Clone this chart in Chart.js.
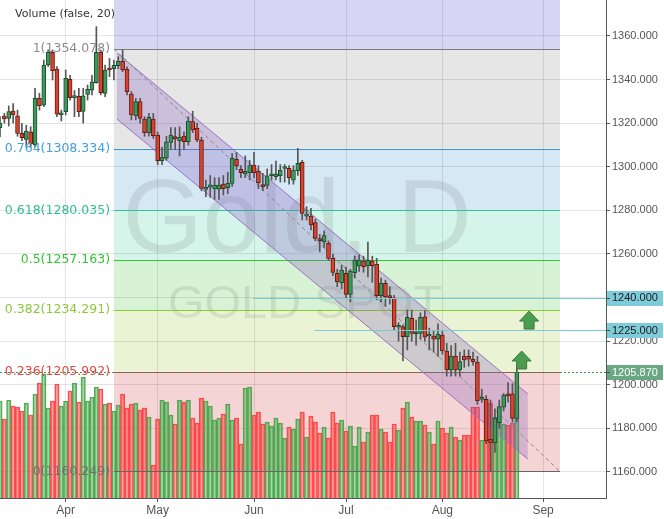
<!DOCTYPE html>
<html>
<head>
<meta charset="utf-8">
<script src="https://cdn.jsdelivr.net/npm/chart.js@4.4.0/dist/chart.umd.min.js"></script>
<style>
  html, body { margin: 0; padding: 0; background: #fff; }
  #wrap { width: 664px; height: 519px; }
</style>
</head>
<body>
<div id="wrap"><canvas id="chart" width="664" height="519"></canvas></div>
<script>
// daily candles, one per trading day (index 0 = partly hidden first bar)
const opens = [
  1318, 1323.3, 1322.2, 1325.6, 1323.4, 1315.3, 1312.6, 1316, 1310, 1331.4,
  1328.3, 1346.7, 1352.5, 1344.8, 1323.8, 1325.3, 1340.1, 1331.7, 1332.3, 1325.4,
  1333.2, 1335.2, 1338.6, 1352.5, 1333.7, 1345.2, 1345, 1346.4, 1348.4, 1344.7,
  1333.4, 1323.4, 1329.9, 1321.9, 1315.7, 1321.9, 1314.6, 1302.8, 1303.9, 1311.2,
  1313.5, 1312, 1314.1, 1311.5, 1320.7, 1317.6, 1312.3, 1289.6, 1290.7, 1289.8,
  1289.7, 1292.1, 1290.4, 1292.4, 1303.4, 1298.8, 1296.7, 1297.3, 1300.8, 1298,
  1291.6, 1291.5, 1295.9, 1295.5, 1295.9, 1299.2, 1299.3, 1293.9, 1298.2, 1302,
  1277.4, 1277.4, 1274.4, 1266.9, 1265.6, 1264.9, 1258, 1251.1, 1246.8, 1251.1,
  1241.5, 1251.4, 1254.5, 1256.8, 1254.5, 1256.8, 1255.3, 1240.9, 1246.5, 1240.4,
  1239.9, 1226.4, 1226.7, 1222.1, 1230.5, 1223.4, 1223.6, 1231.2, 1222.4, 1222.4,
  1220.9, 1222.8, 1215.5, 1206.8, 1213.2, 1206.8, 1213.2, 1213, 1211.7, 1210.3,
  1193.3, 1193.3, 1175, 1173.5, 1182.6, 1189.7, 1195.8, 1195.8, 1184.6
];
const highs = [
  1323, 1324.5, 1327.9, 1329, 1326, 1319.9, 1319, 1318.4, 1336, 1333.7,
  1349, 1353.6, 1353.6, 1346, 1326, 1344.4, 1342, 1335, 1336, 1336,
  1337.5, 1342, 1364.3, 1353.6, 1346.7, 1349.7, 1349, 1350.5, 1353.6, 1345.9,
  1334.5, 1331.4, 1331.4, 1323, 1324.5, 1324.5, 1316, 1309, 1314, 1318,
  1318, 1318.4, 1316, 1323, 1325.5, 1320, 1313.5, 1293.9, 1296, 1295,
  1295, 1296, 1297.5, 1306.1, 1306.6, 1300.5, 1305, 1303, 1306.6, 1300.5,
  1297, 1299, 1301, 1302.6, 1301, 1301, 1300.5, 1300.5, 1308.5, 1303,
  1281.7, 1281, 1276, 1269, 1270.5, 1266, 1260, 1253, 1255, 1254,
  1253, 1259, 1259.6, 1259, 1265.5, 1259, 1258, 1249, 1248, 1245,
  1241, 1228.5, 1227.5, 1234.3, 1234.3, 1229.7, 1233, 1234, 1226, 1225,
  1228, 1224.5, 1219, 1218, 1219, 1215, 1216, 1216, 1215, 1213,
  1198, 1195, 1193, 1189, 1193, 1196, 1201, 1200.5, 1208.5
];
const lows = [
  1313.8, 1320, 1318.7, 1320, 1314, 1312, 1309.2, 1309, 1309, 1326,
  1327.6, 1346, 1339.8, 1323, 1321, 1323.8, 1330.6, 1323, 1323, 1320,
  1330.6, 1333, 1338.3, 1333, 1332.2, 1341.3, 1339.8, 1345, 1343.6, 1333,
  1321.5, 1321.5, 1320, 1314, 1314, 1313, 1301, 1301, 1303, 1308,
  1308, 1305, 1308, 1310, 1315.7, 1311.5, 1289, 1286.3, 1286, 1285,
  1285, 1287, 1287.6, 1291, 1298.7, 1295, 1295, 1294, 1295, 1290,
  1289, 1290, 1294, 1294, 1293, 1293, 1292, 1292, 1296, 1275.6,
  1275.6, 1271, 1266, 1261, 1263, 1257, 1250, 1245, 1244, 1240,
  1238, 1249, 1252, 1251.6, 1249.5, 1247, 1239, 1238, 1236, 1237,
  1225, 1220, 1211, 1216, 1220, 1218.2, 1221, 1220, 1216, 1215,
  1213, 1214, 1204, 1204, 1204, 1204, 1208, 1208.5, 1209, 1191,
  1192, 1173, 1160.5, 1169, 1180, 1188, 1192, 1183, 1183
];
const closes = [
  1320, 1322, 1325.3, 1323.8, 1315.3, 1313.4, 1316.4, 1310.5, 1331.4, 1328,
  1346.7, 1352.5, 1344.1, 1324.1, 1324.5, 1340.6, 1331.7, 1332.5, 1325.3, 1332.6,
  1335.5, 1339, 1352.5, 1334, 1344.4, 1344.4, 1346.5, 1348.4, 1344.4, 1334.5,
  1323.8, 1329.9, 1322.2, 1315.7, 1322.7, 1314.3, 1302.8, 1304.5, 1311.5, 1314.6,
  1312.9, 1313.5, 1311.5, 1321, 1316.9, 1312.3, 1290.1, 1290.6, 1291.7, 1291.6,
  1291.6, 1290, 1292.4, 1303.9, 1300.5, 1297.3, 1297.9, 1300.5, 1297.3, 1292.7,
  1290.9, 1295.8, 1296.4, 1296.7, 1298.5, 1299.8, 1295, 1298.5, 1301.6, 1278.6,
  1277.9, 1273.3, 1267.2, 1266.1, 1268.4, 1258, 1251.6, 1247.3, 1252.6, 1241.5,
  1252.2, 1257.2, 1257.2, 1254.2, 1257.2, 1254.6, 1240.9, 1246.5, 1240.4, 1240,
  1226.7, 1227.2, 1222.1, 1230.9, 1223.6, 1224, 1230.9, 1221.8, 1222.9, 1220.9,
  1223.3, 1215.5, 1206.8, 1213.2, 1206.8, 1210.6, 1211.4, 1211.8, 1210.6, 1192.7,
  1193.8, 1174.2, 1173.6, 1184.6, 1190, 1195.3, 1194.9, 1184.6, 1205.87
];
const volumes = [
  97, 79, 98, 92, 91, 87, 95, 83, 104, 115,
  124, 90, 97, 114, 92, 97, 107, 115, 96, 121,
  97, 101, 111, 109, 94, 95, 87, 93, 104, 90,
  94, 95, 88, 90, 81, 33, 79, 98, 96, 83,
  74, 98, 96, 98, 80, 75, 100, 97, 92, 78,
  80, 84, 94, 78, 80, 54, 110, 111, 83, 86,
  74, 76, 72, 80, 75, 60, 71, 69, 79, 86,
  61, 82, 76, 65, 71, 60, 86, 75, 78, 67,
  72, 52, 71, 56, 66, 83, 83, 69, 66, 56,
  74, 68, 90, 96, 81, 77, 77, 73, 66, 54,
  77, 70, 65, 71, 61, 58, 63, 63, 91, 91,
  58, 99, 95, 81, 91, 74, 73, 75, 89
];

// axis ticks
const monthTicks = [15, 36, 58, 79, 101, 124];
const monthLabels = ["Apr", "May", "Jun", "Jul", "Aug", "Sep"];
const priceTicks = [1160, 1180, 1200, 1220, 1240, 1260, 1280, 1300, 1320, 1340, 1360];

// fibonacci retracement drawing
const fibRatios = ["0", "0.236", "0.382", "0.5", "0.618", "0.764", "1"];
const fibPrices = [1160.249, 1205.992, 1234.291, 1257.163, 1280.035, 1308.334, 1354.078];
const fibFrom = 26.03, fibTo = 127.85;

// parallel channel
const channelX = [26.7, 120.5];
const channelUpper = [1352.2, 1195.8];
const channelLower = [1321.9, 1165.96];

// horizontal levels / markers
const hLevels = [1240, 1225];
const hLevelFrom = [57.8, 71.7];
const lastPrice = 1205.87;
const arrowX = [120.8, 119.1];
const arrowY = [1233.8, 1215.5];

const zoneColors = ["#f4d4d4", "#eaf4d5", "#d7f2d4", "#d5f4ea", "#d5e8f4", "#e6e6e6", "#d6d6f4"];
const fibLineColors = ["#666666", "#cf3d31", "#86cf2a", "#2ecb2e", "#2ac693", "#3a93cf", "#7a7a7a"];
const fibTextColors = ["#707070", "#dc4a40", "#8cc83a", "#33c433", "#32c08e", "#42a0dc", "#8c8c8c"];

const UP = "#3d9a5c", UP_EDGE = "#1f4d2f", DN = "#d8432c", DN_EDGE = "#641c14";

const isUp = (i) => closes[i] >= opens[i];

const overlay = {
  id: "overlay",
  beforeDraw(chart) {
    const { ctx, chartArea: a, scales: { x, y } } = chart;
    ctx.save();
    ctx.beginPath();
    ctx.rect(a.left, a.top, a.width, a.height);
    ctx.clip();
    const x0 = x.getPixelForValue(fibFrom), x1 = x.getPixelForValue(fibTo);
    for (let i = 0; i < fibPrices.length; i++) {
      const yb = y.getPixelForValue(fibPrices[i]);
      const yt = i < fibPrices.length - 1 ? y.getPixelForValue(fibPrices[i + 1]) : a.top;
      ctx.fillStyle = zoneColors[i];
      ctx.fillRect(x0, yt, x1 - x0, yb - yt);
    }
    // watermark
    ctx.fillStyle = "rgba(40,40,40,0.1)";
    ctx.textAlign = "center";
    ctx.textBaseline = "alphabetic";
    ctx.font = '103px "Liberation Sans", Arial, sans-serif';
    ctx.fillText("Gold, D", 297, 252);
    ctx.font = '47px "Liberation Sans", Arial, sans-serif';
    ctx.fillText("GOLD SPOT", 305, 318);
    ctx.restore();
  },
  beforeDatasetDraw(chart, args) {
    if (args.index !== 1) return;
    const { ctx, chartArea: a, scales: { x, y } } = chart;
    ctx.save();
    ctx.beginPath();
    ctx.rect(a.left, a.top, a.width, a.height);
    ctx.clip();
    const x0 = x.getPixelForValue(fibFrom), x1 = x.getPixelForValue(fibTo);
    // fib level lines
    fibPrices.forEach((p, i) => {
      const yy = Math.round(y.getPixelForValue(p)) + 0.5;
      ctx.strokeStyle = fibLineColors[i];
      ctx.lineWidth = 1;
      ctx.beginPath();
      ctx.moveTo(x0, yy);
      ctx.lineTo(x1, yy);
      ctx.stroke();
    });
    // channel
    const cx0 = x.getPixelForValue(channelX[0]), cx1 = x.getPixelForValue(channelX[1]);
    const u0 = y.getPixelForValue(channelUpper[0]), u1 = y.getPixelForValue(channelUpper[1]);
    const l0 = y.getPixelForValue(channelLower[0]), l1 = y.getPixelForValue(channelLower[1]);
    ctx.fillStyle = "rgba(130,90,190,0.27)";
    ctx.beginPath();
    ctx.moveTo(cx0, u0);
    ctx.lineTo(cx1, u1);
    ctx.lineTo(cx1, l1);
    ctx.lineTo(cx0, l0);
    ctx.closePath();
    ctx.fill();
    ctx.strokeStyle = "#9a72c4";
    ctx.beginPath();
    ctx.moveTo(cx0, u0); ctx.lineTo(cx1, u1);
    ctx.moveTo(cx0, l0); ctx.lineTo(cx1, l1);
    ctx.stroke();
    // fib trend line
    ctx.strokeStyle = "#8a8a8a";
    ctx.setLineDash([4, 3]);
    ctx.beginPath();
    ctx.moveTo(x0, y.getPixelForValue(fibPrices[6]));
    ctx.lineTo(x1, y.getPixelForValue(fibPrices[0]));
    ctx.stroke();
    ctx.restore();
  },
  afterDatasetsDraw(chart) {
    const { ctx, chartArea: a, scales: { x, y } } = chart;
    ctx.save();
    // horizontal levels
    ctx.strokeStyle = "#7ccad8";
    ctx.lineWidth = 1;
    hLevels.forEach((v, i) => {
      const yy = Math.round(y.getPixelForValue(v)) + 0.5;
      ctx.beginPath();
      ctx.moveTo(x.getPixelForValue(hLevelFrom[i]), yy);
      ctx.lineTo(a.right, yy);
      ctx.stroke();
    });
    // last price line
    const py = Math.round(y.getPixelForValue(lastPrice)) + 0.5;
    ctx.strokeStyle = "#3f9060";
    ctx.setLineDash([2, 2]);
    ctx.beginPath();
    ctx.moveTo(a.left, py);
    ctx.lineTo(a.right, py);
    ctx.stroke();
    ctx.setLineDash([]);
    // arrows
    arrowX.forEach((v, i) => {
      const tx = x.getPixelForValue(v), ty = y.getPixelForValue(arrowY[i]);
      ctx.fillStyle = "#4c9c4f";
      ctx.strokeStyle = "#3a7a3c";
      ctx.beginPath();
      ctx.moveTo(tx, ty);
      ctx.lineTo(tx + 9.5, ty + 10);
      ctx.lineTo(tx + 5, ty + 10);
      ctx.lineTo(tx + 5, ty + 18);
      ctx.lineTo(tx - 5, ty + 18);
      ctx.lineTo(tx - 5, ty + 10);
      ctx.lineTo(tx - 9.5, ty + 10);
      ctx.closePath();
      ctx.fill();
      ctx.stroke();
    });
    // fib labels
    const lx = x.getPixelForValue(fibFrom) - 4;
    ctx.font = '12.5px "DejaVu Sans", Verdana, sans-serif';
    ctx.textAlign = "right";
    ctx.textBaseline = "middle";
    fibPrices.forEach((p, i) => {
      ctx.fillStyle = fibTextColors[i];
      ctx.fillText(fibRatios[i] + "(" + p.toFixed(3) + ")", lx, y.getPixelForValue(p));
    });
    // study title
    ctx.font = '11px "DejaVu Sans", Verdana, sans-serif';
    ctx.textAlign = "left";
    ctx.fillStyle = "#333";
    ctx.fillText("Volume (false, 20)", 15, 14);
    // price labels on the axis
    const boxes = [
      { v: hLevels[0], bg: "#7ecbd9", fg: "#1a1a1a" },
      { v: hLevels[1], bg: "#7ecbd9", fg: "#1a1a1a" },
      { v: lastPrice, bg: "#69a882", fg: "#ffffff" },
    ];
    ctx.font = '11px "Liberation Sans", Arial, sans-serif';
    boxes.forEach((b) => {
      const yy = y.getPixelForValue(b.v);
      ctx.fillStyle = b.bg;
      ctx.fillRect(a.right + 1, Math.round(yy) - 7, 56, 15);
      ctx.strokeStyle = "#444";
      ctx.beginPath();
      ctx.moveTo(a.right + 1, Math.round(yy) + 0.5);
      ctx.lineTo(a.right + 4, Math.round(yy) + 0.5);
      ctx.stroke();
      ctx.fillStyle = b.fg;
      ctx.fillText(b.v.toFixed(3), a.right + 6, yy + 0.5);
    });
    ctx.restore();
  },
};

const idx = closes.map((_, i) => i);

new Chart(document.getElementById("chart"), {
  type: "bar",
  data: {
    datasets: [
      {
        label: "volume",
        yAxisID: "yVol",
        data: volumes.map((v, i) => ({ x: i, y: v })),
        backgroundColor: idx.map((i) => (isUp(i) ? "rgba(76,175,80,0.5)" : "rgba(255,82,82,0.55)")),
        borderColor: idx.map((i) => (isUp(i) ? "rgba(70,160,70,0.9)" : "rgba(250,60,60,0.9)")),
        borderWidth: 1,
        barPercentage: 1,
        categoryPercentage: 1,
        grouped: false,
        order: 3,
      },
      {
        label: "wick",
        data: idx.map((i) => ({ x: i, y: [lows[i], highs[i]] })),
        backgroundColor: "#555",
        barThickness: 1,
        grouped: false,
        order: 2,
      },
      {
        label: "body",
        data: idx.map((i) => ({ x: i, y: [opens[i], closes[i]] })),
        backgroundColor: idx.map((i) => (isUp(i) ? UP : DN)),
        borderColor: idx.map((i) => (isUp(i) ? UP_EDGE : DN_EDGE)),
        borderWidth: 1,
        borderSkipped: false,
        barThickness: 4,
        minBarLength: 2,
        grouped: false,
        order: 1,
      },
    ],
  },
  options: {
    responsive: false,
    animation: false,
    devicePixelRatio: 1,
    layout: { padding: 0 },
    plugins: { legend: { display: false }, tooltip: { enabled: false } },
    scales: {
      x: {
        type: "linear",
        min: 0,
        max: 138.36,
        offset: false,
        grid: { offset: false, color: "rgba(0,0,0,0.1)", tickColor: "#555", tickLength: 4 },
        border: { color: "#555", width: 1 },
        afterBuildTicks: (s) => { s.ticks = monthTicks.map((v) => ({ value: v })); },
        afterFit: (s) => { s.height = 21; s.paddingLeft = 0; s.paddingRight = 0; },
        ticks: {
          padding: 1,
          color: "#555",
          font: { size: 12, family: '"Liberation Sans", Arial, sans-serif' },
          maxRotation: 0,
          callback: (v) => monthLabels[monthTicks.indexOf(v)],
        },
      },
      y: {
        type: "linear",
        position: "right",
        min: 1148.07,
        max: 1376.51,
        grid: { color: "rgba(0,0,0,0.1)", tickColor: "#555", tickLength: 4 },
        border: { color: "#555", width: 1 },
        afterBuildTicks: (s) => { s.ticks = priceTicks.map((v) => ({ value: v })); },
        afterFit: (s) => { s.width = 58; s.paddingTop = 0; s.paddingBottom = 0; },
        ticks: {
          padding: 2,
          color: "#555",
          font: { size: 11, family: '"Liberation Sans", Arial, sans-serif' },
          callback: (v) => v.toFixed(3),
        },
      },
      yVol: { type: "linear", display: false, min: 0, max: 498 },
    },
  },
  plugins: [overlay],
});
</script>
</body>
</html>
